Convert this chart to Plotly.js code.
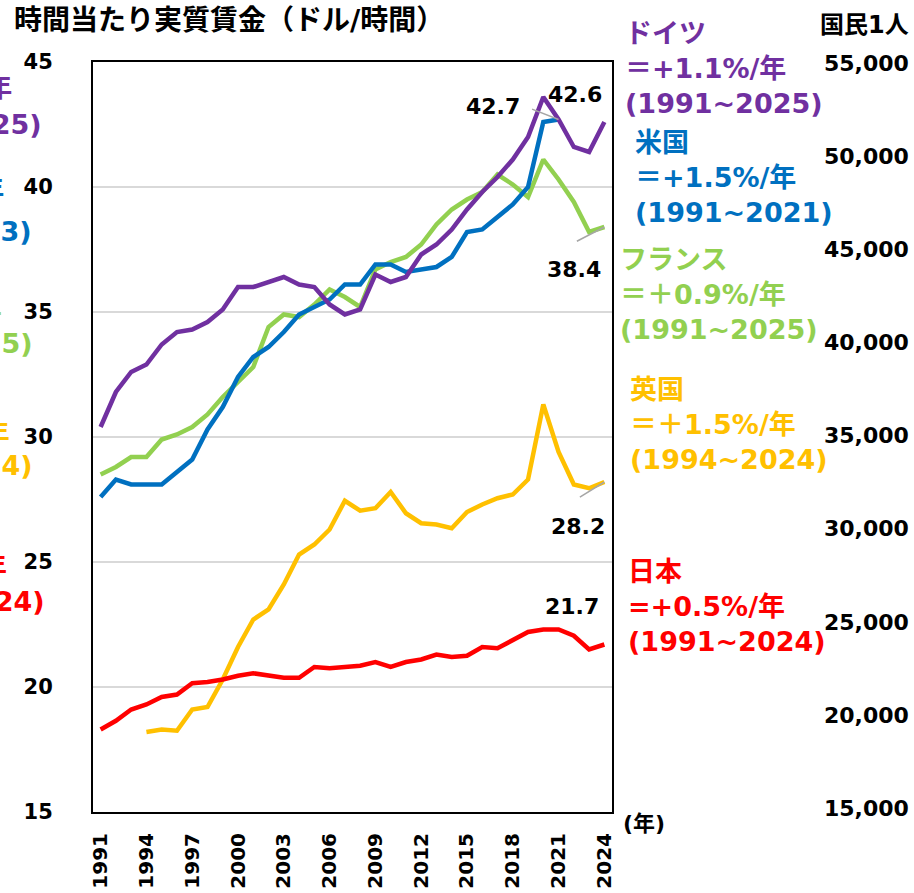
<!DOCTYPE html>
<html>
<head>
<meta charset="utf-8">
<script src="https://cdn.plot.ly/plotly-3.0.1.min.js"></script>
<style>html,body{margin:0;padding:0;background:#fff;overflow:hidden}#chart{width:914px;height:893px}</style>
</head>
<body>
<div id="chart"></div>
<script>
// ---- data ----
const years = [1991,1992,1993,1994,1995,1996,1997,1998,1999,2000,2001,2002,2003,2004,2005,2006,2007,2008,2009,2010,2011,2012,2013,2014,2015,2016,2017,2018,2019,2020,2021,2022,2023,2024];
const yearsUS = [1991,1992,1993,1994,1995,1996,1997,1998,1999,2000,2001,2002,2003,2004,2005,2006,2007,2008,2009,2010,2011,2012,2013,2014,2015,2016,2017,2018,2019,2020,2021];
const yearsUK = [1994,1995,1996,1997,1998,1999,2000,2001,2002,2003,2004,2005,2006,2007,2008,2009,2010,2011,2012,2013,2014,2015,2016,2017,2018,2019,2020,2021,2022,2023,2024];
const germany = [30.4,31.8,32.6,32.9,33.7,34.2,34.3,34.6,35.1,36.0,36.0,36.2,36.4,36.1,36.0,35.3,34.9,35.1,36.5,36.2,36.4,37.3,37.7,38.3,39.1,39.8,40.4,41.1,42.0,43.6,42.7,41.6,41.4,42.6];
const france  = [28.5,28.8,29.2,29.2,29.9,30.1,30.4,30.9,31.6,32.2,32.8,34.4,34.9,34.8,35.3,35.9,35.6,35.2,36.7,37.0,37.2,37.7,38.5,39.1,39.5,39.8,40.5,40.1,39.6,41.1,40.3,39.4,38.2,38.4];
const usa     = [27.6,28.3,28.1,28.1,28.1,28.6,29.1,30.3,31.2,32.4,33.2,33.6,34.2,34.9,35.2,35.5,36.1,36.1,36.9,36.9,36.6,36.7,36.8,37.2,38.2,38.3,38.8,39.3,40.0,42.6,42.7];
const uk      = [18.2,18.3,18.25,19.1,19.2,20.3,21.6,22.7,23.1,24.1,25.3,25.7,26.3,27.45,27.05,27.15,27.8,26.95,26.55,26.5,26.35,27.0,27.3,27.55,27.7,28.3,31.3,29.4,28.1,27.95,28.2];
const japan   = [18.3,18.65,19.1,19.3,19.6,19.7,20.15,20.2,20.3,20.45,20.55,20.45,20.37,20.37,20.8,20.75,20.8,20.85,21.0,20.8,21.0,21.1,21.3,21.2,21.25,21.6,21.55,21.9,22.2,22.3,22.3,22.05,21.5,21.7];
const xTicks = [1991,1994,1997,2000,2003,2006,2009,2012,2015,2018,2021,2024];
const yTicks = [15,20,25,30,35,40,45];
const y2Ticks = [15000,20000,25000,30000,35000,40000,45000,50000,55000];

const names = {de:'ドイツ', us:'米国', fr:'フランス', uk:'英国', jp:'日本'};
const rates = {de:'＝+1.1%/年', us:'＝+1.5%/年', fr:'＝＋0.9%/年', uk:'＝＋1.5%/年', jp:'=+0.5%/年'};
const periods = {de:'(1991~2025)', us:'(1991~2021)', fr:'(1991~2025)', uk:'(1994~2024)', jp:'(1991~2024)'};
const colors = {de:'#7030A0', us:'#0070C0', fr:'#92D050', uk:'#FFC000', jp:'#FF0000'};

// ---- layout helpers ----
const W = 914, H = 893, L = 93, T = 62, B = 81, R = 0;
const PW = W - L - R, PH = H - T - B;
const px = v => (v - L) / PW;
const py = v => (H - B - v) / PH;
const FONT = 'DejaVu Sans, Noto Sans CJK JP, sans-serif';
const last = a => a[a.length - 1];

function line(x, y, c) {
  return {x: x, y: y, type: 'scatter', mode: 'lines', line: {color: c, width: 4.5}, hoverinfo: 'skip', showlegend: false};
}
const traces = [
  line(years, france, colors.fr),
  line(yearsUS, usa, colors.us),
  line(years, germany, colors.de),
  line(yearsUK, uk, colors.uk),
  line(years, japan, colors.jp),
  {x: [], y: [], yaxis: 'y2', type: 'scatter', mode: 'lines', showlegend: false, hoverinfo: 'skip'}
];

const ann = [];
// country blocks on the right
function block(key, xl, ymid) {
  ann.push({xref: 'paper', yref: 'paper', x: px(xl), y: py(ymid), xanchor: 'left', yanchor: 'middle', align: 'left',
    showarrow: false, text: '<b>' + names[key] + '<br>' + rates[key] + '<br>' + periods[key] + '</b>',
    font: {family: FONT, size: 27, color: colors[key]}});
}
block('de', 623, 68);
block('us', 633, 178);
block('fr', 618, 294);
block('uk', 628, 424);
block('jp', 626, 606);

// cut-off blocks at the left edge
function leftFrag(key, xr1, y1, xr2, y2) {
  ann.push({xref: 'paper', yref: 'paper', x: px(xr1), y: py(y1), xanchor: 'right', yanchor: 'middle', showarrow: false,
    text: '<b>' + rates[key] + '</b>', font: {family: FONT, size: 27, color: colors[key]}});
  ann.push({xref: 'paper', yref: 'paper', x: px(xr2), y: py(y2), xanchor: 'right', yanchor: 'middle', showarrow: false,
    text: '<b>' + periods[key].replace('2021', '2023') + '</b>', font: {family: FONT, size: 27, color: colors[key]}});
}
leftFrag('de', 14, 88, 44, 125);
leftFrag('us', 6, 190, 34, 231);
leftFrag('fr', 4, 308, 35, 343);
leftFrag('uk', 12, 433, 35, 466);
leftFrag('jp', 9, 566, 47, 601);

// value labels
function valLabel(x, y, xs, ys) {
  ann.push({xref: 'x', yref: 'y', x: x, y: y, xshift: xs, yshift: ys, showarrow: false,
    text: '<b>' + y.toFixed(1) + '</b>', font: {family: FONT, size: 22, color: '#000'}});
}
valLabel(last(years), last(germany), -29, 28);
valLabel(last(yearsUS), last(usa), -66, 13);
valLabel(last(years), last(france), -30, -42);
valLabel(last(yearsUK), last(uk), -26, -44);
valLabel(last(years), last(japan), -32, 38);

// leader lines
function leader(x, y, ax, ay) {
  ann.push({xref: 'x', yref: 'y', x: x, y: y, ax: ax, ay: ay, text: '', showarrow: true, arrowhead: 0,
    arrowwidth: 1.5, arrowcolor: '#A6A6A6', standoff: 0, startstandoff: 0});
}
leader(last(yearsUS), last(usa), -28, -11);
leader(last(years), last(france), -29, 15);
leader(last(yearsUK), last(uk), -26, 16);

// other texts
ann.push({xref: 'paper', yref: 'paper', x: px(621), y: py(823), xanchor: 'left', yanchor: 'middle', showarrow: false,
  text: '<b>(年)</b>', font: {family: FONT, size: 22, color: '#000'}});
ann.push({xref: 'paper', yref: 'paper', x: px(818), y: py(25), xanchor: 'left', yanchor: 'middle', showarrow: false,
  text: '<b>国民1人</b>', font: {family: FONT, size: 24, color: '#000'}});

const layout = {
  width: W, height: H,
  margin: {l: L, r: R, t: T, b: B, pad: 0},
  paper_bgcolor: '#fff', plot_bgcolor: '#fff',
  showlegend: false,
  title: {text: '<b>時間当たり実質賃金（ドル/時間）</b>', xref: 'container', yref: 'container',
    x: 14 / W, xanchor: 'left', y: 1 - 20 / H, yanchor: 'middle',
    font: {family: FONT, size: 28, color: '#000'}},
  xaxis: {
    domain: [0, (612 - L) / PW],
    range: [1990.5, 2024.5],
    tickvals: xTicks, ticktext: xTicks.map(String),
    tickangle: -90, ticks: '', ticklabelstandoff: 11,
    showgrid: false, zeroline: false,
    showline: true, mirror: true, linecolor: '#000', linewidth: 2,
    tickfont: {family: FONT, size: 20, color: '#000', weight: 'bold'}
  },
  yaxis: {
    range: [15, 45],
    tickvals: yTicks, ticktext: yTicks.map(String),
    ticks: '', ticklabelstandoff: 34,
    showgrid: true, gridcolor: '#D9D9D9', gridwidth: 2,
    zeroline: false,
    showline: true, mirror: true, linecolor: '#000', linewidth: 2,
    tickfont: {family: FONT, size: 21, color: '#000', weight: 'bold'}
  },
  yaxis2: {
    overlaying: 'y', side: 'right', anchor: 'x',
    range: [14800, 55050],
    tickvals: y2Ticks, ticktext: y2Ticks.map(v => v.toLocaleString('en-US')),
    ticks: '', ticklabelstandoff: 211,
    showgrid: false, zeroline: false, showline: false,
    tickfont: {family: FONT, size: 22, color: '#000', weight: 'bold'}
  },
  annotations: ann
};

Plotly.newPlot('chart', traces, layout, {staticPlot: true, displayModeBar: false});
</script>
</body>
</html>
